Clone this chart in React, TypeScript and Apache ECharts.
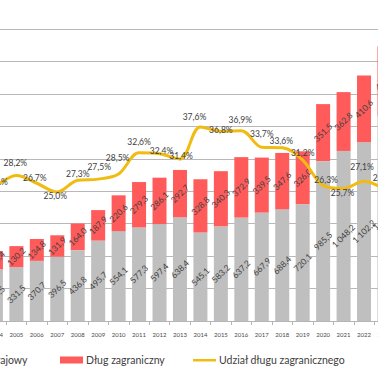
import React, { useEffect, useRef } from 'react';
import * as echarts from 'echarts';

const years = ['2004', '2005', '2006', '2007', '2008', '2009', '2010', '2011', '2012', '2013', '2014', '2015', '2016', '2017', '2018', '2019', '2020', '2021', '2022', '2023'];
const domesticDebt = [318.5, 331.5, 370.7, 396.5, 436.8, 495.7, 554.1, 577.3, 597.4, 638.4, 545.1, 583.2, 637.2, 667.9, 688.4, 720.1, 985.5, 1048.2, 1102.2, 1262.4];
const foreignDebt = [112.4, 130.2, 134.8, 131.9, 164.0, 187.9, 220.6, 279.3, 286.1, 292.7, 328.8, 340.3, 372.9, 339.5, 347.6, 326.0, 351.5, 362.8, 410.6, 431.2];
const foreignShare = [26.1, 28.2, 26.7, 25.0, 27.3, 27.5, 28.5, 32.6, 32.4, 31.4, 37.6, 36.8, 36.9, 33.7, 33.6, 31.2, 26.3, 25.7, 27.1, 25.5];
const seriesNames = ['Dług krajowy', 'Dług zagraniczny', 'Udział długu zagranicznego'];
const yMin = 0;
const yMax = 1800;
const yInterval = 200;
const shareMax = 56.6;

// label nudges (style only): how far each % label centre sits above its point, and sideways shift
const labelRise = [4, 12, 5, -4, 6, 12, 15, 10, 2, 3, 10, 1, 10, 13, 6, 7, 5, -5, 14, 11];
const labelShift = [0, -1, -2, -2, 0, 1, -1, 0, 2, 1, -6, 0, -1, 0, -1, 0, 3, -1, -2, 0];

const GREY = '#BFBFBF';
const RED = '#FF5B5B';
const GOLD = '#F0BC12';
const TXT = '#404040';
const FONT = 'Lato';

const fmt = (v: number) => {
  const [i, d] = v.toFixed(1).split('.');
  return i.replace(/\B(?=(\d{3})+(?!\d))/g, ' ') + ',' + d;
};

const OFFSET_X = 60;

export default function App() {
  const ref = useRef<HTMLDivElement>(null);
  useEffect(() => {
    if (!ref.current) return;
    const chart = echarts.init(ref.current, null, { renderer: 'svg' });
    const barLabel = {
      show: true,
      position: 'inside',
      rotate: 45,
      color: TXT,
      fontFamily: FONT,
      fontSize: 8.5,
      formatter: (p: any) => fmt(p.value),
    };
    chart.setOption({
      animation: false,
      backgroundColor: '#ffffff',
      textStyle: { fontFamily: FONT },
      grid: { left: 45.7, right: 13.3, top: 29, bottom: 49 },
      xAxis: {
        type: 'category',
        data: years,
        boundaryGap: true,
        axisLine: { show: true, lineStyle: { color: '#B5B5B5', width: 1 } },
        axisTick: { show: true, length: 4, lineStyle: { color: '#B5B5B5' } },
        axisLabel: { color: '#4A4A4A', fontSize: 6, fontFamily: FONT, margin: 10 },
      },
      yAxis: [
        {
          type: 'value',
          min: yMin,
          max: yMax,
          interval: yInterval,
          axisLabel: { show: false },
          axisLine: { show: false },
          axisTick: { show: false },
          splitLine: { show: true, lineStyle: { color: '#B8B8B8', width: 1 } },
        },
        {
          type: 'value',
          min: 0,
          max: shareMax,
          show: false,
          splitLine: { show: false },
        },
      ],
      series: [
        {
          name: seriesNames[0],
          type: 'bar',
          stack: 'debt',
          barWidth: 14,
          data: domesticDebt,
          itemStyle: { color: GREY },
          label: barLabel,
        },
        {
          name: seriesNames[1],
          type: 'bar',
          stack: 'debt',
          barWidth: 14,
          data: foreignDebt,
          itemStyle: { color: RED },
          label: barLabel,
        },
        {
          name: seriesNames[2],
          type: 'line',
          yAxisIndex: 1,
          smooth: 0.35,
          symbol: 'circle',
          symbolSize: 2,
          showSymbol: true,
          itemStyle: { color: GOLD },
          lineStyle: { color: GOLD, width: 3 },
          z: 5,
          data: foreignShare.map((v, i) => ({
            value: v,
            label: {
              show: true,
              position: 'top',
              distance: 0,
              offset: [labelShift[i], 5 - labelRise[i]],
              color: TXT,
              fontFamily: FONT,
              fontSize: 8.5,
              formatter: (p: any) => p.value.toFixed(1).replace('.', ',') + '%',
            },
          })),
        },
      ],
      graphic: [
        { type: 'rect', x: 0, y: 356.5, shape: { width: 23, height: 7 }, style: { fill: GREY } },
        { type: 'text', x: 26, y: 360, style: { text: seriesNames[0], fill: TXT, font: `10.5px ${FONT}`, verticalAlign: 'middle' } },
        { type: 'rect', x: 120, y: 356.5, shape: { width: 23, height: 7 }, style: { fill: RED } },
        { type: 'text', x: 146, y: 360, style: { text: seriesNames[1], fill: TXT, font: `10.5px ${FONT}`, verticalAlign: 'middle' } },
        { type: 'rect', x: 253, y: 359, shape: { width: 23, height: 2.5 }, style: { fill: GOLD } },
        { type: 'text', x: 279, y: 360, style: { text: seriesNames[2], fill: TXT, font: `10.5px ${FONT}`, verticalAlign: 'middle' } },
      ],
    });
    return () => chart.dispose();
  }, []);
  return (
    <div style={{ position: 'absolute', left: 0, top: 0, width: 378, height: 370, overflow: 'hidden', background: '#fff' }}>
      <div ref={ref} style={{ position: 'absolute', left: -OFFSET_X, top: 0, width: 378 + OFFSET_X + 30, height: 370 }} />
    </div>
  );
}
